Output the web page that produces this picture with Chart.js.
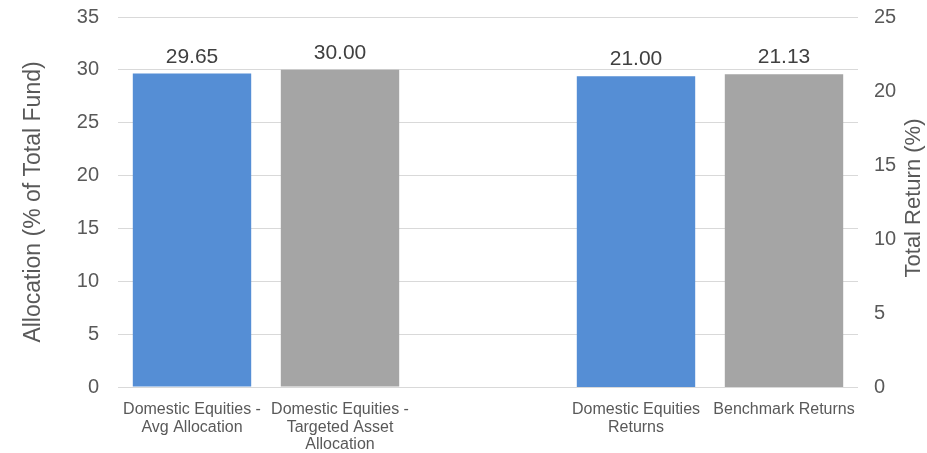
<!DOCTYPE html>
<html>
<head>
<meta charset="utf-8">
<script src="https://cdn.jsdelivr.net/npm/chart.js@4.4.1/dist/chart.umd.min.js"></script>
<style>
  html, body { margin: 0; padding: 0; background: #fff; }
  #wrap { position: relative; width: 927px; height: 453px; }
</style>
</head>
<body>
<div id="wrap"><canvas id="fundChart"></canvas></div>
<script>
// categories (blank slot separates allocation bars from return bars)
const categories = [
    ['Domestic Equities -', 'Avg Allocation'],
    ['Domestic Equities -', 'Targeted Asset', 'Allocation'],
    '',
    ['Domestic Equities', 'Returns'],
    'Benchmark Returns'
];
const allocationValues = [29.65, 30.00, null, null, null];
const returnValues = [null, null, null, 21.00, 21.13];
const allocationTicks = [0, 5, 10, 15, 20, 25, 30, 35];
const returnTicks = [0, 5, 10, 15, 20, 25];

const BLUE = '#558ED5';
const GRAY = '#A5A5A5';
const barColors = [BLUE, GRAY, GRAY, BLUE, GRAY];
const FONT = "'Liberation Sans', Arial, sans-serif";

// value labels above each bar
const barValueLabels = {
    id: 'barValueLabels',
    afterDatasetsDraw(chart) {
        const ctx = chart.ctx;
        ctx.save();
        ctx.font = '21px ' + FONT;
        ctx.fillStyle = '#404040';
        ctx.textAlign = 'center';
        ctx.textBaseline = 'alphabetic';
        chart.data.datasets.forEach((ds, i) => {
            const meta = chart.getDatasetMeta(i);
            meta.data.forEach((bar, j) => {
                const v = ds.data[j];
                if (v === null || v === undefined) return;
                ctx.fillText(v.toFixed(2), bar.x, bar.y - 11);
            });
        });
        ctx.restore();
    }
};

// right axis title, reading bottom-to-top like the left one
const rightAxisTitle = {
    id: 'rightAxisTitle',
    afterDraw(chart) {
        const ctx = chart.ctx;
        const area = chart.chartArea;
        ctx.save();
        ctx.translate(chart.width - 13, (area.top + area.bottom) / 2 - 4);
        ctx.rotate(-Math.PI / 2);
        ctx.font = '22px ' + FONT;
        ctx.fillStyle = '#595959';
        ctx.textAlign = 'center';
        ctx.textBaseline = 'middle';
        ctx.fillText('Total Return (%)', 0, 0);
        ctx.restore();
    }
};

// fixed axis width; tick label overhang is left to layout.padding
function fixedWidth(w) {
    return scale => {
        scale.width = w;
        scale.paddingTop = 0;
        scale.paddingBottom = 0;
    };
}

new Chart(document.getElementById('fundChart'), {
    type: 'bar',
    data: {
        labels: categories,
        datasets: [{
            label: 'Allocation',
            data: allocationValues,
            yAxisID: 'yAlloc',
            backgroundColor: barColors,
            grouped: false,
            barPercentage: 0.8,
            categoryPercentage: 1.0
        }, {
            label: 'Return',
            data: returnValues,
            yAxisID: 'yReturn',
            backgroundColor: barColors,
            grouped: false,
            barPercentage: 0.8,
            categoryPercentage: 1.0
        }]
    },
    options: {
        responsive: true,
        maintainAspectRatio: false,
        animation: false,
        layout: { padding: { top: 17, left: 0, right: 0, bottom: 0 } },
        plugins: {
            legend: { display: false },
            tooltip: { enabled: false }
        },
        scales: {
            x: {
                grid: { display: false },
                border: { display: false },
                ticks: {
                    color: '#595959',
                    font: { family: FONT, size: 16, lineHeight: 1.1 },
                    maxRotation: 0,
                    autoSkip: false,
                    padding: 6
                },
                afterFit: scale => { scale.height = 66; }
            },
            yAlloc: {
                position: 'left',
                min: 0,
                max: 35,
                afterBuildTicks: scale => {
                    scale.ticks = allocationTicks.map(v => ({ value: v }));
                },
                grid: { color: '#D9D9D9', lineWidth: 1, drawTicks: false },
                border: { display: false },
                ticks: {
                    color: '#595959',
                    font: { family: FONT, size: 20 },
                    padding: 19
                },
                title: {
                    display: true,
                    text: 'Allocation (% of Total Fund)',
                    color: '#595959',
                    font: { family: FONT, size: 23 },
                    padding: { top: 20, bottom: 0 }
                },
                afterFit: fixedWidth(118)
            },
            yReturn: {
                position: 'right',
                min: 0,
                max: 25,
                afterBuildTicks: scale => {
                    scale.ticks = returnTicks.map(v => ({ value: v }));
                },
                grid: { display: false, drawTicks: false },
                border: { display: false },
                ticks: {
                    color: '#595959',
                    font: { family: FONT, size: 20 },
                    padding: 16
                },
                afterFit: fixedWidth(69)
            }
        }
    },
    plugins: [barValueLabels, rightAxisTitle]
});
</script>
</body>
</html>
